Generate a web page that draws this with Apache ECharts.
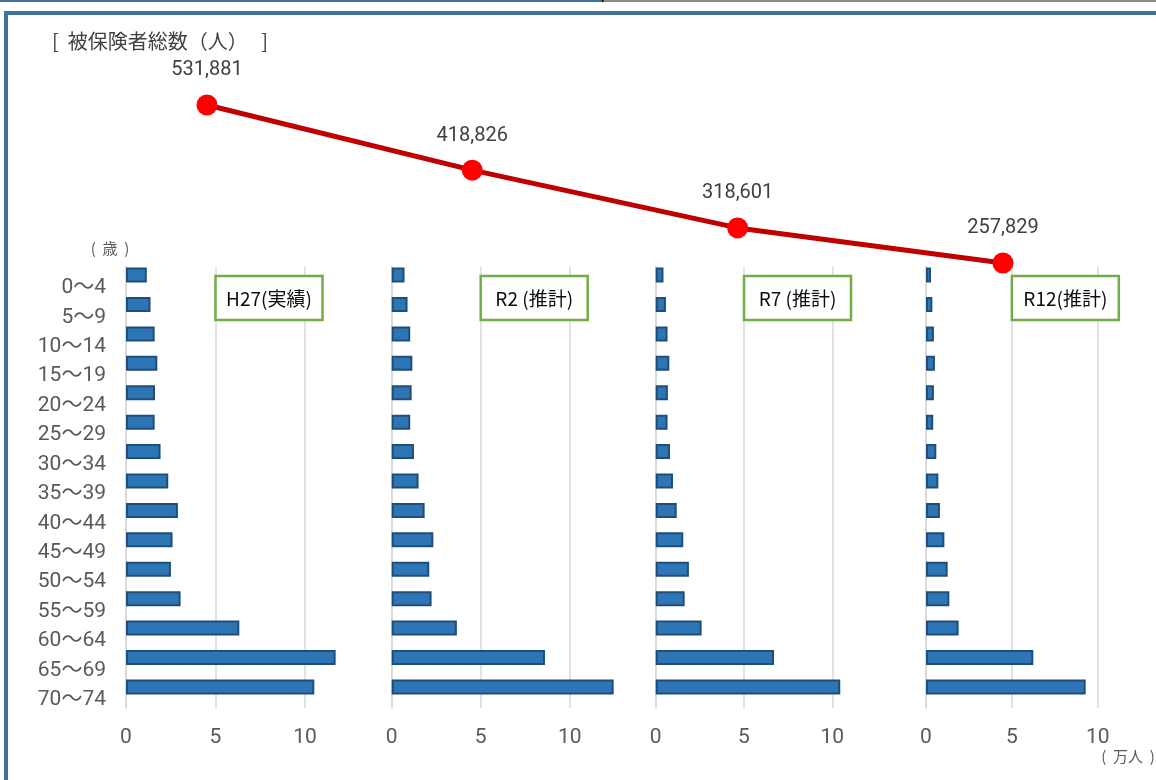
<!DOCTYPE html>
<html><head><meta charset="utf-8">
<script src="https://cdn.jsdelivr.net/npm/echarts@6/dist/echarts.min.js"></script>
<style>html,body{margin:0;padding:0;background:#fff}#c{width:1156px;height:780px}</style>
</head><body><div id="c"></div>
<script>
// ---- data ----
const ageGroups = ['0～4','5～9','10～14','15～19','20～24','25～29','30～34','35～39','40～44','45～49','50～54','55～59','60～64','65～69','70～74'];
const periods = ['H27','R2','R7','R12'];
const periodNotes = ['H27(実績)','R2 (推計)','R7 (推計)','R12(推計)'];
const totalInsured = [531881, 418826, 318601, 257829];           // 人
const popH27 = [1.16,1.37,1.60,1.75,1.62,1.60,1.93,2.36,2.90,2.60,2.51,3.05,6.33,11.71,10.52]; // 万人
const popR2  = [0.72,0.89,1.04,1.16,1.12,1.04,1.25,1.51,1.85,2.34,2.11,2.24,3.66,8.61,12.47];
const popR7  = [0.44,0.58,0.67,0.77,0.69,0.67,0.81,0.98,1.19,1.56,1.88,1.64,2.60,6.70,10.45];
const popR12 = [0.29,0.37,0.46,0.52,0.46,0.42,0.60,0.72,0.81,1.07,1.26,1.36,1.90,6.25,9.30];
const valueTicks = [0, 5, 10];
const titleText = '[  被保険者総数（人）   ]';
const ageUnit = '(  歳  )';
const popUnit = '(  万人  )';

// ---- layout ----
const panelData = [popH27, popR2, popR7, popR12];
const axisMax = 13;
const panelLayout = [
  {left: 126, width: 232.7},
  {left: 391.7, width: 231.4},
  {left: 655.7, width: 229.6},
  {left: 926, width: 223.2}
];
const barTop = 266.7, barHeight = 441.3;
const gridColor = '#D9D9D9';
const labelColor = '#595959';
const numFont = 'Roboto, "Noto Sans CJK JP", sans-serif';
const jpFont = '"Noto Sans CJK JP", sans-serif';

const grids = [], xAxes = [], yAxes = [], series = [];
panelData.forEach((d, i) => {
  grids.push({left: panelLayout[i].left, width: panelLayout[i].width, top: barTop, height: barHeight, containLabel: false});
  xAxes.push({
    type: 'value', gridIndex: i, min: 0, max: axisMax, interval: 5,
    axisLine: {show: false}, axisTick: {show: false},
    splitLine: {show: true, showMaxLine: false, lineStyle: {color: gridColor, width: 1.5}},
    axisLabel: {
      show: true, showMaxLabel: false, margin: 19, color: labelColor, fontSize: 21, fontFamily: numFont,
      formatter: v => valueTicks.indexOf(v) >= 0 ? String(v) : ''
    }
  });
  yAxes.push({
    type: 'category', gridIndex: i, data: ageGroups, inverse: true, boundaryGap: true,
    axisLine: {show: true, lineStyle: {color: gridColor, width: 1.5}},
    axisTick: {show: false}, splitLine: {show: false},
    axisLabel: {
      show: i === 0, margin: 20,
      formatter: v => '{a|' + v + '}',
      rich: {a: {color: labelColor, fontSize: 21, fontFamily: numFont, padding: [13, 0, 0, 0]}}
    }
  });
  series.push({
    type: 'bar', xAxisIndex: i, yAxisIndex: i, data: d, barWidth: 15, barGap: '-15%',
    itemStyle: {color: '#2E75B6', borderColor: '#1F4E79', borderWidth: 2},
    silent: true, z: 2
  });
  series.push({
    type: 'bar', xAxisIndex: i, yAxisIndex: i, data: d.map(() => '-'), barWidth: 15, barGap: '-15%',
    itemStyle: {color: 'transparent'}, silent: true
  });
});

// line grid
grids.push({left: 74.3, width: 1061.3, top: 65.7, height: 345.9});
xAxes.push({type: 'category', gridIndex: 4, data: periods, boundaryGap: true, show: false});
yAxes.push({type: 'value', gridIndex: 4, min: 0, max: 600000, show: false, splitLine: {show: false}});
series.push({
  type: 'line', xAxisIndex: 4, yAxisIndex: 4, data: totalInsured,
  lineStyle: {color: '#C00000', width: 5},
  symbol: 'circle', symbolSize: 21,
  itemStyle: {color: '#FF0000', borderWidth: 0},
  label: {
    show: true, position: 'top', distance: 14, color: '#404040', fontSize: 20, fontFamily: numFont,
    formatter: p => String(p.value).replace(/\B(?=(\d{3})+(?!\d))/g, ',')
  },
  z: 5, silent: true
});

const chart = echarts.init(document.getElementById('c'), null, {renderer: 'canvas'});
chart.setOption({
  backgroundColor: '#fff',
  animation: false,
  grid: grids, xAxis: xAxes, yAxis: yAxes, series: series
});

// annotation graphics
const frameBlue = '#41719C';
const graphics = [
  {type: 'rect', shape: {x: 0, y: 0, width: 603, height: 2}, style: {fill: frameBlue}},
  {type: 'rect', shape: {x: 603, y: 0, width: 553, height: 2}, style: {fill: '#8C8C8C'}},
  {type: 'rect', shape: {x: 602, y: 0, width: 1.5, height: 2}, style: {fill: '#000'}},
  {type: 'rect', shape: {x: 4, y: 11, width: 1152, height: 4}, style: {fill: frameBlue}},
  {type: 'rect', shape: {x: 4, y: 11, width: 4, height: 769}, style: {fill: frameBlue}},
  {type: 'text', x: 52, y: 41, style: {text: titleText, fill: '#404040', fontSize: 20, fontFamily: jpFont, verticalAlign: 'middle', align: 'left'}},
  {type: 'text', x: 110, y: 248, style: {text: ageUnit, fill: labelColor, fontSize: 15, fontFamily: jpFont, verticalAlign: 'middle', align: 'center'}},
  {type: 'text', x: 1128, y: 756, style: {text: popUnit, fill: labelColor, fontSize: 15, fontFamily: jpFont, verticalAlign: 'middle', align: 'center'}}
];
periodNotes.forEach((t, i) => {
  const x5 = chart.convertToPixel({xAxisIndex: i}, 5);
  const w = 107;
  graphics.push({
    type: 'rect', shape: {x: x5, y: 276, width: w, height: 44},
    style: {fill: '#fff', stroke: '#70AD47', lineWidth: 2.5}, z: 10
  });
  graphics.push({
    type: 'text', x: x5 + w / 2, y: 299,
    style: {text: t, fill: '#0D0D0D', fontSize: 19, fontFamily: jpFont, align: 'center', verticalAlign: 'middle'}, z: 11
  });
});
chart.setOption({graphic: graphics});
</script>
</body></html>
